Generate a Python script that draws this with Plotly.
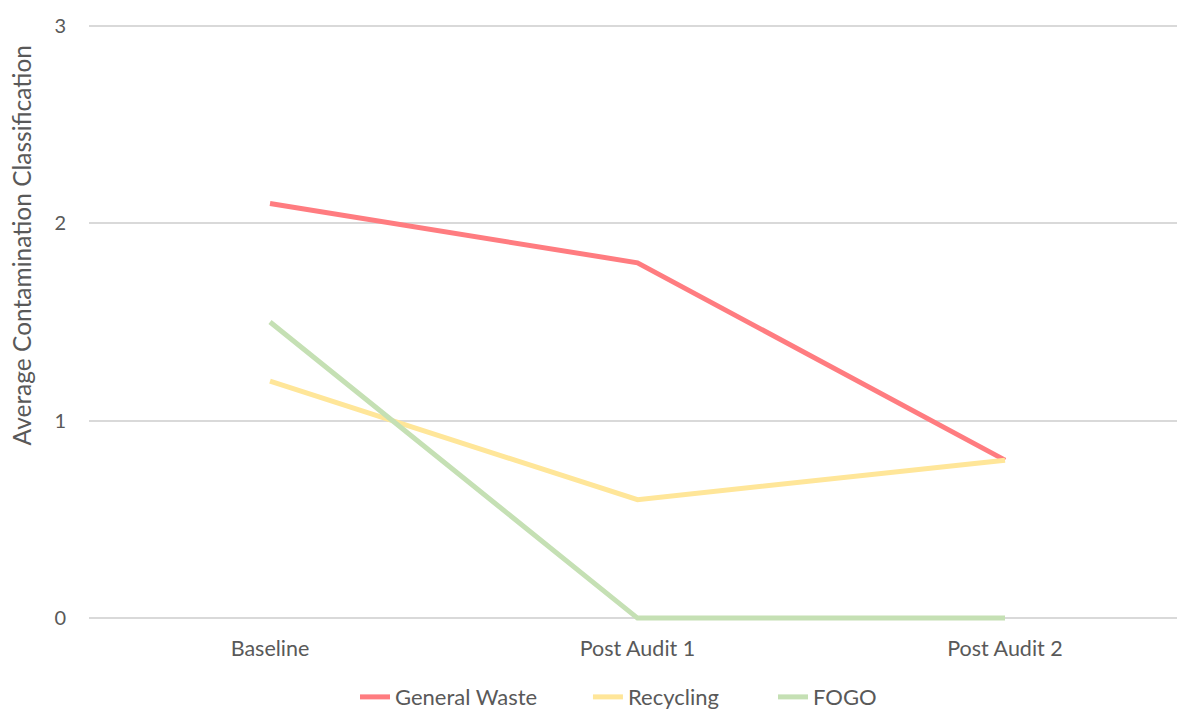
import plotly.graph_objects as go

categories = ["Baseline", "Post Audit 1", "Post Audit 2"]
general_waste = [2.1, 1.8, 0.8]
recycling = [1.2, 0.6, 0.8]
fogo = [1.5, 0.0, 0.0]
y_ticks = [0, 1, 2, 3]

# name, values, colour, legend id, legend left edge (paper x)
series = [
    ("General Waste", general_waste, "#FF7C80", "legend", 0.2445),
    ("Recycling", recycling, "#FFE699", "legend2", 0.4586),
    ("FOGO", fogo, "#C5E0B4", "legend3", 0.6287),
]

FONT = "Lato"
TEXT = "#595959"

fig = go.Figure()
for name, vals, color, leg, _ in series:
    fig.add_trace(go.Scatter(
        x=list(range(len(categories))), y=vals, name=name, mode="lines",
        line=dict(color=color, width=5), legend=leg,
    ))

legend_style = dict(
    orientation="h", yanchor="middle", y=-0.121, xanchor="left",
    font=dict(family=FONT, size=22, color=TEXT),
    bgcolor="rgba(0,0,0,0)", itemwidth=30,
)
legends = {leg: dict(legend_style, x=lx) for _, _, _, leg, lx in series}

fig.update_layout(
    width=1177, height=713,
    margin=dict(l=89, r=0, t=20, b=89, autoexpand=False),
    paper_bgcolor="white", plot_bgcolor="white",
    font=dict(family=FONT, color=TEXT, size=20),
    showlegend=True,
    xaxis=dict(
        range=[-0.4925, 2.468], tickmode="array",
        tickvals=list(range(len(categories))), ticktext=categories,
        showgrid=False, zeroline=False, showline=False,
        ticks="", ticklabelstandoff=9,
        tickfont=dict(family=FONT, size=21.5, color=TEXT),
    ),
    yaxis=dict(
        range=[-0.03, 3.03], tickvals=y_ticks,
        showgrid=True, gridcolor="#D9D9D9", gridwidth=1.5,
        zeroline=False, showline=False, ticks="", ticklabelstandoff=22,
        tickfont=dict(family=FONT, size=20, color=TEXT),
        layer="below traces",
    ),
    annotations=[dict(
        text="Average Contamination Classification", textangle=-90,
        xref="paper", yref="paper", x=-0.062, y=0.626,
        xanchor="center", yanchor="middle", showarrow=False,
        font=dict(family=FONT, size=24.5, color=TEXT),
    )],
    **legends,
)

fig.write_html("out.html")
